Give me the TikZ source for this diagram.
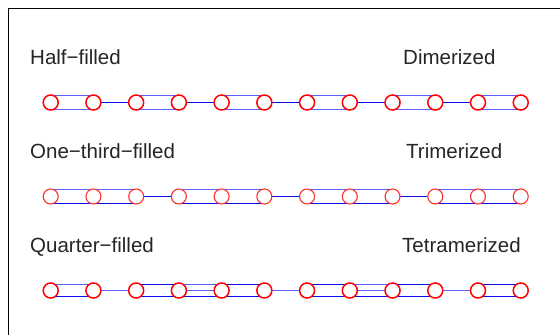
\documentclass[tikz,border=0pt]{standalone}
\usepackage{fontspec}
\setmainfont{Liberation Sans}
\begin{document}
\begin{tikzpicture}[x=1pt,y=-1pt,
  site/.style={circle,draw=red,fill=white,line width=1.5pt,minimum size=15pt,inner sep=0pt},
  sitethin/.style={circle,draw={rgb,255:red,255;green,45;blue,45},fill=white,line width=1.1pt,minimum size=15pt,inner sep=0pt},
  lbl/.style={anchor=base west,inner sep=0pt,text=black!85,font=\fontsize{20.5}{24}\selectfont},
  dark/.style={draw={rgb,255:red,10;green,10;blue,235},line width=1.2pt},
  light/.style={draw={rgb,255:red,95;green,95;blue,255},line width=1.3pt}]
\useasboundingbox (0,0) rectangle (560,335);
\fill[white] (0,0) rectangle (560,335);
\draw[line width=1pt] (8.5,335) -- (8.5,8.5) -- (560,8.5);
% labels
\node[lbl] (t1l) at (30,64) {Half−filled};
\node[lbl] (t1r) at (403,64) {Dimerized};
\node[lbl] (t2l) at (30,158) {One−third−filled};
\node[lbl] (t2r) at (406,158) {Trimerized};
\node[lbl] (t3l) at (30,252) {Quarter−filled};
\node[lbl] (t3r) at (402,252) {Tetramerized};
% coordinates of sites
\foreach \i in {1,...,12} {
  \coordinate (a\i) at ({50.7+42.73*(\i-1)},102.5);
  \coordinate (b\i) at ({50.7+42.73*(\i-1)},196.5);
  \coordinate (c\i) at ({50.7+42.73*(\i-1)},290.5);
}
% row 1: dimerized
\foreach \i/\j in {1/2,3/4,5/6,7/8,9/10,11/12} {
  \draw[light] ([yshift=7pt]a\i) -- ([yshift=7pt]a\j);
  \draw[light] ([yshift=-7pt]a\i) -- ([yshift=-7pt]a\j);
}
\foreach \i/\j in {2/3,4/5,6/7,8/9,10/11} \draw[dark] (a\i) -- (a\j);
% row 2: trimerized (top light, bottom dark)
\foreach \i/\j in {1/2,2/3,4/5,5/6,7/8,8/9,10/11,11/12} {
  \draw[light] ([yshift=7pt]b\i) -- ([yshift=7pt]b\j);
  \draw[dark] ([yshift=-7pt]b\i) -- ([yshift=-7pt]b\j);
}
\foreach \i/\j in {3/4,6/7,9/10} \draw[dark] (b\i) -- (b\j);
% row 3: tetramerized
\draw[light] ([yshift=6pt]c1) -- ([yshift=6pt]c2);
\draw[dark] ([yshift=-6pt]c1) -- ([yshift=-6pt]c2);
\foreach \i/\j in {3/4,5/6,7/8,9/10,11/12} {
  \draw[dark] ([yshift=6pt]c\i) -- ([yshift=6pt]c\j);
  \draw[dark] ([yshift=-6pt]c\i) -- ([yshift=-6pt]c\j);
}
\foreach \i/\j in {4/5,8/9} {
  \draw[light] ([yshift=6pt]c\i) -- ([yshift=6pt]c\j);
  \draw[light] (c\i) -- (c\j);
  \draw[dark] ([yshift=-6pt]c\i) -- ([yshift=-6pt]c\j);
}
\foreach \i/\j in {2/3,6/7,10/11} \draw[light] (c\i) -- (c\j);
% sites
\foreach \i in {1,...,12} {
  \node[site] (sa\i) at (a\i) {};
  \node[sitethin] (sb\i) at (b\i) {};
  \node[site] (sc\i) at (c\i) {};
}
\end{tikzpicture}
\end{document}
